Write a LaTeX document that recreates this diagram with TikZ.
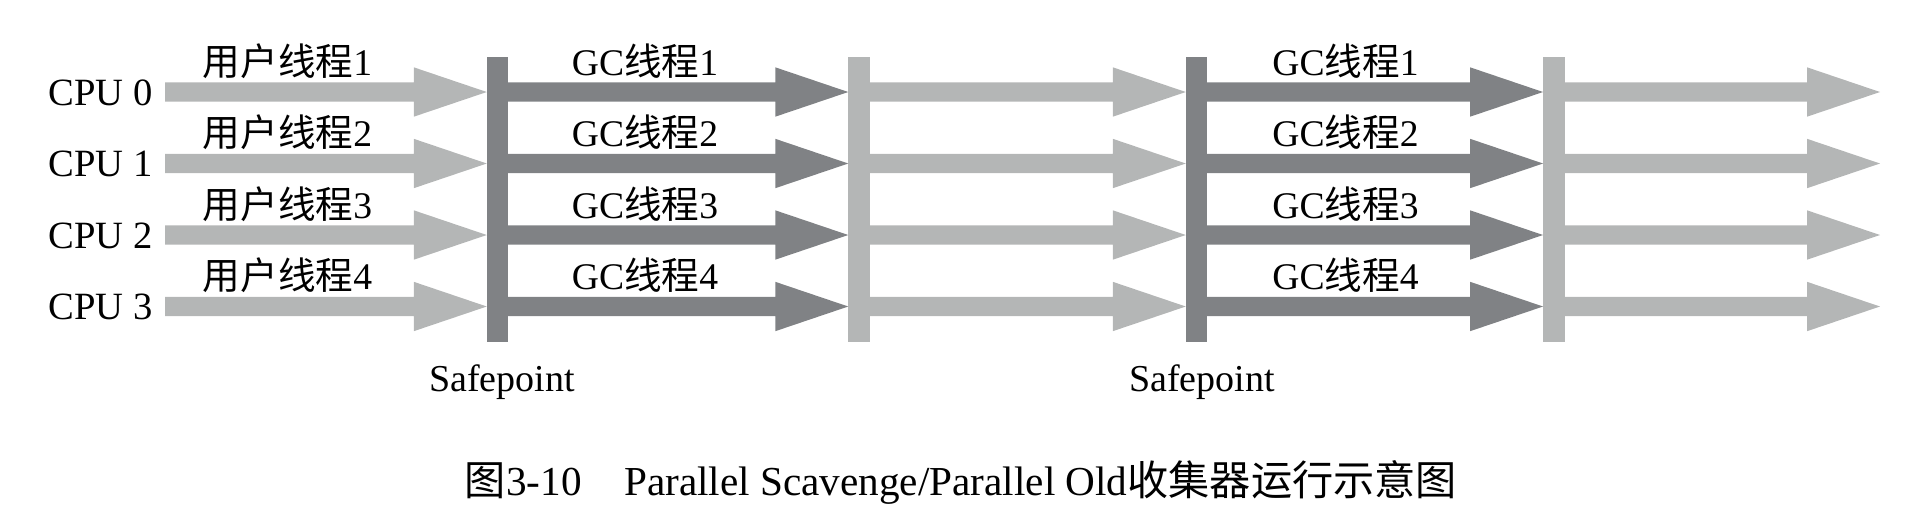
\documentclass[tikz,border=0pt]{standalone}
\usepackage{fontspec}
\setmainfont{Liberation Serif}
\newfontfamily\cjk{Noto Sans CJK SC}
\usetikzlibrary{calc}
\definecolor{gcdark}{RGB}{128,130,133}
\definecolor{usrlight}{RGB}{180,182,182}
% block arrow: style, from, tip
\newcommand\blockarrow[3]{%
  \fill[#1] ($(#2)+(0,-9.6)$) -- ($(#3)+(-73,-9.6)$) -- ($(#3)+(-73,-24.7)$) -- (#3)
    -- ($(#3)+(-73,24.7)$) -- ($(#3)+(-73,9.6)$) -- ($(#2)+(0,9.6)$) -- cycle;}
\tikzset{
  bar/.style={minimum width=10.75pt, minimum height=142.5pt, inner sep=0pt, outer sep=0pt, draw=none},
  cpulbl/.style={font=\fontsize{19.3pt}{23pt}\selectfont, inner sep=0pt, anchor=base west},
  thrlbl/.style={font=\fontsize{18.8pt}{22pt}\selectfont, inner sep=0pt, anchor=base},
  splbl/.style={font=\fontsize{19pt}{23pt}\selectfont, inner sep=0pt, anchor=base},
  caplbl/.style={font=\fontsize{20.6pt}{25pt}\selectfont, inner sep=0pt, anchor=base},
  usr/.style={fill=usrlight},
  gc/.style={fill=gcdark},
}
\begin{document}
\begin{tikzpicture}[x=0.5pt,y=-0.5pt]
\useasboundingbox (0,0) rectangle (1928,526);
% rows
\coordinate (r0) at (0,92);
\coordinate (r1) at (0,163.5);
\coordinate (r2) at (0,235);
\coordinate (r3) at (0,306.5);
% start and end points
\foreach \i in {0,1,2,3}{
  \coordinate (s\i) at (165,0 |- r\i);
  \coordinate (e\i) at (1880,0 |- r\i);
}
% safepoint bars
\node[bar, fill=gcdark] (sp1) at (497.5,199.2) {};
\node[bar, fill=usrlight] (sp2) at (859,199.2) {};
\node[bar, fill=gcdark] (sp3) at (1196.5,199.2) {};
\node[bar, fill=usrlight] (sp4) at (1553.8,199.2) {};
% arrows
\foreach \i in {0,1,2,3}{
  \blockarrow{usr}{s\i}{sp1.west |- r\i}
  \blockarrow{gc}{sp1.center |- r\i}{sp2.west |- r\i}
  \blockarrow{usr}{sp2.center |- r\i}{sp3.west |- r\i}
  \blockarrow{gc}{sp3.center |- r\i}{sp4.west |- r\i}
  \blockarrow{usr}{sp4.center |- r\i}{e\i}
}
% CPU labels
\node[cpulbl] (cpu0) at (48,105) {CPU 0};
\node[cpulbl] (cpu1) at (48,176.5) {CPU 1};
\node[cpulbl] (cpu2) at (48,248) {CPU 2};
\node[cpulbl] (cpu3) at (48,319.5) {CPU 3};
% user thread labels
\node[thrlbl] (u1) at (287.5,75) {{\cjk 用户线程}1};
\node[thrlbl] (u2) at (287.5,146.5) {{\cjk 用户线程}2};
\node[thrlbl] (u3) at (287.5,218) {{\cjk 用户线程}3};
\node[thrlbl] (u4) at (287.5,289.5) {{\cjk 用户线程}4};
% GC thread labels
\node[thrlbl] (ga1) at (645,75) {GC{\cjk 线程}1};
\node[thrlbl] (ga2) at (645,146.5) {GC{\cjk 线程}2};
\node[thrlbl] (ga3) at (645,218) {GC{\cjk 线程}3};
\node[thrlbl] (ga4) at (645,289.5) {GC{\cjk 线程}4};
\node[thrlbl] (gb1) at (1345.5,75) {GC{\cjk 线程}1};
\node[thrlbl] (gb2) at (1345.5,146.5) {GC{\cjk 线程}2};
\node[thrlbl] (gb3) at (1345.5,218) {GC{\cjk 线程}3};
\node[thrlbl] (gb4) at (1345.5,289.5) {GC{\cjk 线程}4};
% safepoint labels
\node[splbl] (sl1) at (502,391.7) {Safepoint};
\node[splbl] (sl2) at (1202,391.7) {Safepoint};
% caption
\node[caplbl] (cap) at (961,495) {{\cjk 图}3-10\hspace{1.03em}Parallel Scavenge/Parallel Old{\cjk 收集器运行示意图}};
\end{tikzpicture}
\end{document}
